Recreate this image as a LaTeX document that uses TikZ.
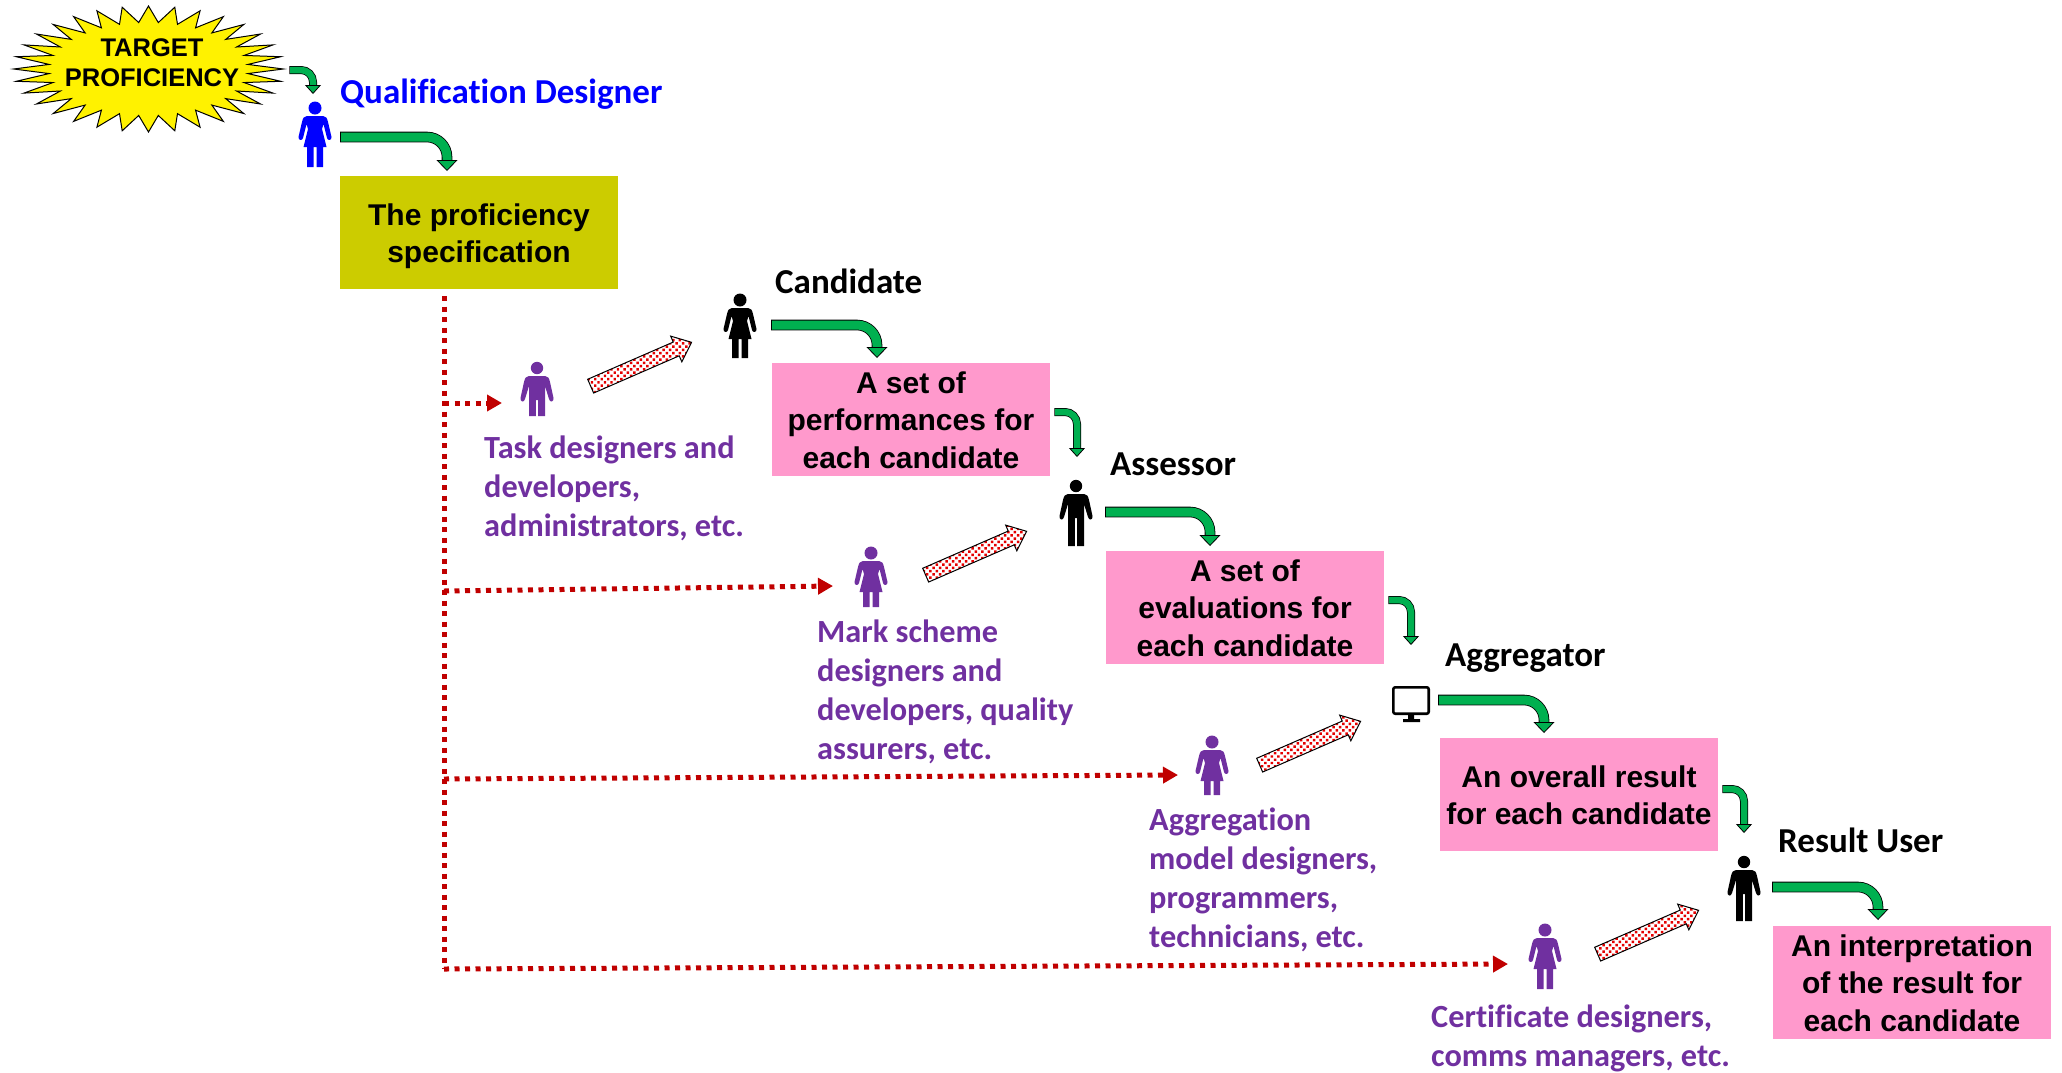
\documentclass[tikz,border=0pt]{standalone}
\usepackage{xcolor}
\usepackage{fontspec}
\usepackage{tikz}
\usetikzlibrary{shapes.geometric}
\usetikzlibrary{shapes.arrows}
\usetikzlibrary{arrows.meta}
\usetikzlibrary{patterns.meta}
\setmainfont[Ligatures=NoCommon]{Carlito}
\newfontfamily\arialfont{Liberation Sans}
\definecolor{arrowgreen}{HTML}{00B050}
\definecolor{boxpink}{HTML}{FF99CC}
\definecolor{boxolive}{HTML}{CCCC00}
\definecolor{rolepurple}{HTML}{7030A0}
\definecolor{linkred}{HTML}{C00000}
\newcommand{\toppad}[1]{\rule{0pt}{#1pt}}
\begin{document}
\begin{tikzpicture}[
		x=1pt,
		y=-1pt,
		>=Triangle,
		font=\fontsize{35pt}{39pt}\selectfont\bfseries
	]
		\tikzset{
			outcome/.style={
				fill=boxpink,
				minimum width=278,
				minimum height=113,
				inner sep=0,
				align=center,
				font=\arialfont\fontsize{30pt}{37.5pt}\selectfont\bfseries,
			},
			role/.style={
				anchor=west,
				inner sep=0,
			},
			maker/.style={
				anchor=west,
				inner sep=0,
				align=left,
				text=rolepurple,
				font=\fontsize{32.3pt}{39.2pt}\selectfont\bfseries,
			},
			bigbend/.style={
				draw=arrowgreen,
				line width=9pt,
				rounded corners=20,
				preaction={draw=black,line width=10.6pt,shorten <=-0.8pt,shorten >=8pt,-},
				-{Triangle[length=11pt,width=21pt,color=black,fill=arrowgreen,line width=0.8pt]},
			},
			smallbend/.style={
				draw=arrowgreen,
				line width=6.5pt,
				rounded corners=12,
				preaction={draw=black,line width=8pt,shorten <=-0.7pt,shorten >=7pt,-},
				-{Triangle[length=9pt,width=16pt,color=black,fill=arrowgreen,line width=0.8pt]},
			},
			reddots/.style={
				draw=linkred,
				line width=5pt,
				dash pattern=on 5pt off 5.5pt,
			},
			redtip/.style={
				-{Triangle[length=15pt,width=16pt,color=linkred,fill=linkred,sep=0pt]},
			},
			handover/.style={
				shape=single arrow,
				draw=black,
				line width=1pt,
				minimum height=110,
				text height=14pt,
				text depth=0pt,
				single arrow head extend=6.5,
				single arrow tip angle=80,
				inner sep=0,
				rotate=23.5,
				preaction={fill=white},
				pattern={Dots[radius=1.75pt,distance=4.6pt,angle=45]},
				pattern color=red!90!black,
			},
			pics/woman/.style={code={
				\fill[pic actions] (0,6) circle (6.5);
				\fill[pic actions] (-8,14) -- (8,14)
					.. controls (11,14) and (12,16) .. (13,20)
					-- (16.5,35) .. controls (17,38.5) and (12.5,39) .. (12,36)
					-- (8.5,22) -- (7,27) -- (11.5,45) -- (8,45) -- (8,#1) -- (1.5,#1) -- (1.5,45)
					-- (-1.5,45) -- (-1.5,#1) -- (-8,#1) -- (-8,45) -- (-11.5,45) -- (-7,27) -- (-8.5,22)
					-- (-12,36) .. controls (-12.5,39) and (-17,38.5) .. (-16.5,35)
					-- (-13,20) .. controls (-12,16) and (-11,14) .. (-8,14) -- cycle;
			}},
			pics/man/.style={code={
				\fill[pic actions] (0,6) circle (6.2);
				\fill[pic actions] (-8,14) -- (8,14)
					.. controls (11,14) and (12,16) .. (13,20)
					-- (16.5,36) .. controls (17,40) and (13,41) .. (12,37)
					-- (8,24) -- (8,#1) -- (1.2,#1) -- (1.2,38) -- (-1.2,38) -- (-1.2,#1) -- (-8,#1) -- (-8,24)
					-- (-12,37) .. controls (-13,41) and (-17,40) .. (-16.5,36)
					-- (-13,20) .. controls (-12,16) and (-11,14) .. (-8,14) -- cycle;
			}},
		}
		\useasboundingbox (0,0) rectangle (2062,1072);

		% target and designer
		\node[star,star points=32,star point ratio=1.35,minimum size=126,inner sep=0,
			xscale=2.14,transform shape,draw=black,line width=1pt,fill=yellow] (burst) at (148.5,69) {};
		\node[align=center,inner sep=0,font=\arialfont\fontsize{25.5pt}{30pt}\selectfont\bfseries] (target) at (152,62.5) {TARGET\\PROFICIENCY};
		\pic[fill=blue] (designerfig) at (315,102) {woman=65};
		\node[role,text=blue] (designer) at (340,94.5) {Qualification Designer};
		\node[outcome,fill=boxolive] (spec) at (479,232.5) {\toppad{29}The proficiency\\specification};

		% the chain of roles
		\pic[fill=black] (candidatefig) at (740,294) {woman=64};
		\node[role] (candidate) at (775,281) {Candidate};
		\node[outcome] (performances) at (911,419.5) {\toppad{23}A set of\\performances for\\each candidate};
		\pic[fill=black] (assessorfig) at (1076,480) {man=66};
		\node[role] (assessor) at (1110,464) {Assessor};
		\node[outcome] (evaluations) at (1245,607.5) {\toppad{23}A set of\\evaluations for\\each candidate};
		\draw[black,line width=2.6pt,rounded corners=2] (1393.3,687.3) rectangle (1428.7,713.7);
		\fill[black] (1408,713) rectangle (1414,720) (1403,719) rectangle (1420,722);
		\coordinate (monitor) at (1411,704);
		\node[role] (aggregator) at (1445,658.5) {Aggregator};
		\node[outcome] (overall) at (1579,794.5) {\toppad{23}An overall result\\for each candidate};
		\pic[fill=black] (userfig) at (1744,856) {man=65};
		\node[role] (resultuser) at (1778,840) {Result User};
		\node[outcome] (interpretation) at (1912,982.5) {\toppad{23}An interpretation\\of the result for\\each candidate};

		% the people behind each step
		\pic[fill=rolepurple] (taskfig) at (537,362) {man=54};
		\node[maker] (task) at (484,488.5) {Task designers and\\developers,\\administrators, etc.};
		\pic[fill=rolepurple] (markfig) at (871,547) {woman=60};
		\node[maker] (mark) at (817,692) {Mark scheme\\designers and\\developers, quality\\assurers, etc.};
		\pic[fill=rolepurple] (aggregationfig) at (1212,736) {woman=59};
		\node[maker] (aggregation) at (1149,880) {Aggregation\\model designers,\\programmers,\\technicians, etc.};
		\pic[fill=rolepurple] (certificatefig) at (1545,924) {woman=65};
		\node[maker] (certificate) at (1431,1038) {Certificate designers,\\comms managers, etc.};

		% hatched arrows
		\node[handover] (handtask) at (637,366) {};
		\node[handover] (handmark) at (972,555) {};
		\node[handover] (handaggregation) at (1306,745) {};
		\node[handover] (handcertificate) at (1644,934) {};

		% ends of the bent arrows
		\coordinate (targetout) at (290,70);
		\coordinate (designerin) at (313,94);
		\coordinate (designerout) at (341,137);
		\coordinate (specin) at (447,171);
		\coordinate (candidateout) at (772,325);
		\coordinate (performancesin) at (877,358);
		\coordinate (performancesout) at (1055,412);
		\coordinate (assessorin) at (1077,457);
		\coordinate (assessorout) at (1106,512);
		\coordinate (evaluationsin) at (1210,546);
		\coordinate (evaluationsout) at (1389,600);
		\coordinate (aggregatorin) at (1411,645);
		\coordinate (aggregatorout) at (1439,700);
		\coordinate (overallin) at (1544,733);
		\coordinate (overallout) at (1723,789);
		\coordinate (userin) at (1744,833);
		\coordinate (userout) at (1773,887);
		\coordinate (interpretationin) at (1878,920);

		\draw[smallbend] (targetout) -| (designerin);
		\draw[bigbend] (designerout) -| (specin);
		\draw[bigbend] (candidateout) -| (performancesin);
		\draw[smallbend] (performancesout) -| (assessorin);
		\draw[bigbend] (assessorout) -| (evaluationsin);
		\draw[smallbend] (evaluationsout) -| (aggregatorin);
		\draw[bigbend] (aggregatorout) -| (overallin);
		\draw[smallbend] (overallout) -| (userin);
		\draw[bigbend] (userout) -| (interpretationin);

		% dotted feed from the specification
		\coordinate (trunktop) at (444,296);
		\coordinate (trunkbottom) at (444,969);
		\coordinate (branchtask) at (444,403);
		\coordinate (branchmark) at (444,591);
		\coordinate (branchaggregation) at (444,779);
		\coordinate (tiptask) at (502,403);
		\coordinate (tipmark) at (833,586);
		\coordinate (tipaggregation) at (1178,775);
		\coordinate (tipcertificate) at (1508,964);

		\draw[reddots] (trunktop) -- (trunkbottom);
		\draw[reddots,redtip] (branchtask) -- (tiptask);
		\draw[reddots,redtip] (branchmark) -- (tipmark);
		\draw[reddots,redtip] (branchaggregation) -- (tipaggregation);
		\draw[reddots,redtip] (trunkbottom) -- (tipcertificate);
	\end{tikzpicture}
\end{document}
